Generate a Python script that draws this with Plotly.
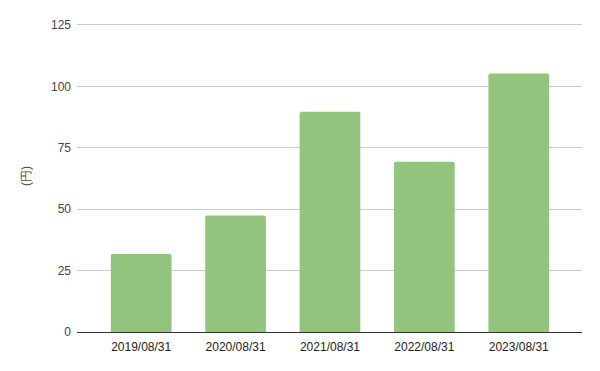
import plotly.graph_objects as go

categories = ["2019/08/31", "2020/08/31", "2021/08/31", "2022/08/31", "2023/08/31"]
values = [31.8, 47.4, 89.7, 69.3, 105.2]
y_ticks = [0, 25, 50, 75, 100, 125]

fig = go.Figure(go.Bar(
    x=categories, y=values,
    marker=dict(color="#93c47d", line=dict(width=0), cornerradius=2),
))

fig.update_layout(
    width=600, height=371,
    margin=dict(l=77, r=18, t=20, b=39),
    paper_bgcolor="white", plot_bgcolor="white",
    bargap=0.357,
    showlegend=False,
    font=dict(family="Liberation Sans, Arial, sans-serif", size=12, color="#222222"),
)
fig.update_xaxes(
    type="category", range=[-0.68, 4.67],
    showgrid=False, showline=True, linecolor="#333333", linewidth=1,
    ticks="", tickfont=dict(size=12, color="#222222"),
    ticklabelstandoff=4,
)
fig.update_yaxes(
    range=[0, 127], tickvals=y_ticks,
    showgrid=True, gridcolor="#cccccc", gridwidth=1,
    zeroline=False, showline=False, ticks="",
    tickfont=dict(size=12, color="#444444"),
    ticklabelstandoff=5,
    title=dict(text="(円)", font=dict(size=12, color="#444444"), standoff=17),
)

fig.write_html("out.html")
